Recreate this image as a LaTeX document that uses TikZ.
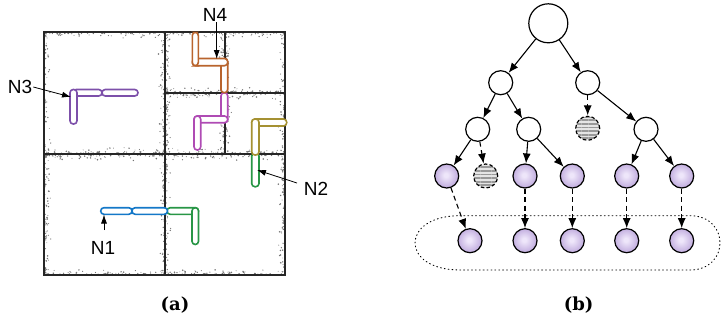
\documentclass[tikz,border=0pt]{standalone}
\usepackage{fontspec}
\usetikzlibrary{arrows.meta,patterns.meta}
\newfontfamily\labfont{Liberation Sans}
\newfontfamily\capfont{DejaVu Serif}
\definecolor{cpurple}{RGB}{125,80,170}
\definecolor{cblue}{RGB}{20,120,200}
\definecolor{cgreen}{RGB}{40,150,70}
\definecolor{cbrown}{RGB}{185,100,45}
\definecolor{cmagenta}{RGB}{175,75,180}
\definecolor{colive}{RGB}{165,145,50}
\definecolor{pballA}{RGB}{238,230,250}
\definecolor{pballB}{RGB}{148,115,195}
\pgfdeclareradialshading{pball}{\pgfpoint{-2bp}{2bp}}{color(0bp)=(pballA); color(4bp)=(pballA); color(46bp)=(pballB); color(50bp)=(pballB)}
\newcommand\specks[7]{%
 \foreach \k in {1,...,#7}{%
  \pgfmathsetmacro\spT{rnd}%
  \pgfmathsetmacro\spD{0.9+6*rnd*rnd}%
  \pgfmathsetmacro\spR{0.4+0.5*rnd}%
  \fill[black!55] ({#1+\spT*(#3-#1)+\spD*(#5)},{#2+\spT*(#4-#2)+\spD*(#6)}) circle (\spR);
 }}
\tikzset{
  gridline/.style={line width=1.3pt, draw=black!85},
  clipbar/.style={rounded corners=3.2pt, line width=1.6pt, fill=white},
  lab/.style={font=\labfont\fontsize{19}{22}\selectfont, inner sep=1pt},
  larrow/.style={line width=0.8pt, -{Latex[length=9pt,width=6pt]}},
  captext/.style={font=\capfont\bfseries\fontsize{18}{21}\selectfont},
  wnode/.style={circle, draw, line width=1.2pt, fill=white, minimum size=24pt, inner sep=0pt},
  rootnode/.style={wnode, minimum size=39pt},
  pnode/.style={circle, draw, line width=1.2pt, shading=pball, minimum size=24pt, inner sep=0pt},
  gnode/.style={circle, draw, line width=1.2pt, dash pattern=on 3.5pt off 2.2pt, preaction={fill=black!10}, pattern={Lines[angle=0,distance=3.6pt,line width=1.8pt]}, pattern color=black!40, minimum size=24pt, inner sep=0pt},
  tarrow/.style={line width=1.1pt, -{Latex[length=10pt,width=8pt]}},
  darrow/.style={tarrow, dash pattern=on 5pt off 3.5pt},
}
\begin{document}
\begin{tikzpicture}[x=1pt,y=-1pt]
\useasboundingbox (0,0) rectangle (721,322);
\pgfmathsetseed{42}
% speckle noise
\specks{44}{32}{285}{32}{0}{1}{110}
\specks{44}{275}{285}{275}{0}{-1}{110}
\specks{44}{32}{44}{275}{1}{0}{110}
\specks{285}{32}{285}{275}{-1}{0}{110}
\specks{165}{32}{165}{275}{1}{0}{110}
\specks{165}{32}{165}{275}{-1}{0}{110}
\specks{44}{154}{285}{154}{0}{1}{110}
\specks{44}{154}{285}{154}{0}{-1}{110}
\specks{225}{32}{225}{154}{1}{0}{55}
\specks{225}{32}{225}{154}{-1}{0}{55}
\specks{165}{93}{285}{93}{0}{1}{55}
\specks{165}{93}{285}{93}{0}{-1}{55}
% grid
\draw[gridline] (44,32) rectangle (285,275);
\draw[gridline] (165,32) -- (165,275);
\draw[gridline] (44,154) -- (285,154);
\draw[gridline] (225,32) -- (225,154);
\draw[gridline] (165,93) -- (285,93);
% purple (N3)
\draw[clipbar, draw=cpurple] (102,89.5) rectangle (138,96);
\draw[clipbar, draw=cpurple] (73,89.5) rectangle (102,96);
\draw[clipbar, draw=cpurple] (70,89.5) rectangle (77,124);
% green + blue (N1)
\draw[clipbar, draw=cgreen] (167,207.7) rectangle (198.5,214.3);
\draw[clipbar, draw=cgreen] (192,207.7) rectangle (198.5,244.5);
\draw[clipbar, draw=cblue] (132,207.7) rectangle (167.5,214.3);
\draw[clipbar, draw=cblue] (100.7,207.7) rectangle (132,214.3);
% magenta
\draw[clipbar, draw=cmagenta] (221,92.7) rectangle (227.7,122.7);
\draw[clipbar, draw=cmagenta] (194,116) rectangle (227.7,122.7);
\draw[clipbar, draw=cmagenta] (194,116) rectangle (200.7,150);
% brown (N4)
\draw[clipbar, draw=cbrown] (221,58.5) rectangle (227.7,92.7);
\draw[clipbar, draw=cbrown] (192.3,58.5) rectangle (227.7,65.7);
\draw[clipbar, draw=cbrown] (192.3,32.3) rectangle (198.3,65.7);
% green (N2) + olive
\draw[clipbar, draw=cgreen] (251.7,153) rectangle (259,186.7);
\draw[clipbar, draw=colive] (251.7,119) rectangle (286.7,126);
\draw[clipbar, draw=colive] (251.7,119) rectangle (259,155);
% labels
\node[lab] (n3) at (20,87) {N3};
\node[lab] (n4) at (215,14.5) {N4};
\node[lab] (n2) at (316,188.5) {N2};
\node[lab] (n1) at (103,248) {N1};
\coordinate (n3tip) at (71,97);
\coordinate (n4tip) at (216.7,59);
\coordinate (n2tail) at (297,183);
\coordinate (n2tip) at (257,170);
\coordinate (n1tail) at (104,230);
\coordinate (n1tip) at (104,214.5);
\draw[larrow] (n3.east) -- (n3tip);
\draw[larrow] (n4tip |- n4.south) -- (n4tip);
\draw[larrow] (n2tail) -- (n2tip);
\draw[larrow] (n1tail) -- (n1tip);
% captions
\node[captext] (capa) at (175,305) {(a)};
\node[captext] (capb) at (578.7,305) {(b)};
% tree
\draw[line width=0.9pt, dash pattern=on 0.9pt off 3pt, line cap=round] (460,215.7) -- (690,215.7) .. controls (730,215.7) and (730,270) .. (690,270) -- (460,270) .. controls (400,270) and (400,215.7) .. (460,215.7) -- cycle;
\node[rootnode] (r) at (548.3,23.3) {};
\node[wnode] (a) at (500.7,82.7) {};
\node[wnode] (b) at (587.7,82.7) {};
\node[wnode] (c) at (477.7,129.3) {};
\node[wnode] (d) at (528.7,129.3) {};
\node[gnode] (g1) at (587.7,128.3) {};
\node[wnode] (e) at (646,129.3) {};
\node[pnode] (p1) at (446.7,176) {};
\node[gnode] (g2) at (485.7,176) {};
\node[pnode] (p2) at (525,176) {};
\node[pnode] (p3) at (572.3,176) {};
\node[pnode] (p4) at (626.7,176) {};
\node[pnode] (p5) at (681.7,176) {};
\node[pnode] (q1) at (470,240.7) {};
\node[pnode] (q2) at (525,240.7) {};
\node[pnode] (q3) at (572.3,240.7) {};
\node[pnode] (q4) at (626.7,240.7) {};
\node[pnode] (q5) at (681.7,240.7) {};
\draw[tarrow] (r) -- (a);
\draw[tarrow] (r) -- (b);
\draw[tarrow] (a) -- (c);
\draw[tarrow] (a) -- (d);
\draw[darrow] (b) -- (g1);
\draw[tarrow] (b) -- (e);
\draw[tarrow] (c) -- (p1);
\draw[darrow] (c) -- (g2);
\draw[tarrow] (d) -- (p2);
\draw[tarrow] (d) -- (p3);
\draw[tarrow] (e) -- (p4);
\draw[tarrow] (e) -- (p5);
\draw[darrow] (p1) -- (q1);
\draw[darrow] (p2) -- (q2);
\draw[darrow] (p3) -- (q3);
\draw[darrow] (p4) -- (q4);
\draw[darrow] (p5) -- (q5);
\end{tikzpicture}
\end{document}
